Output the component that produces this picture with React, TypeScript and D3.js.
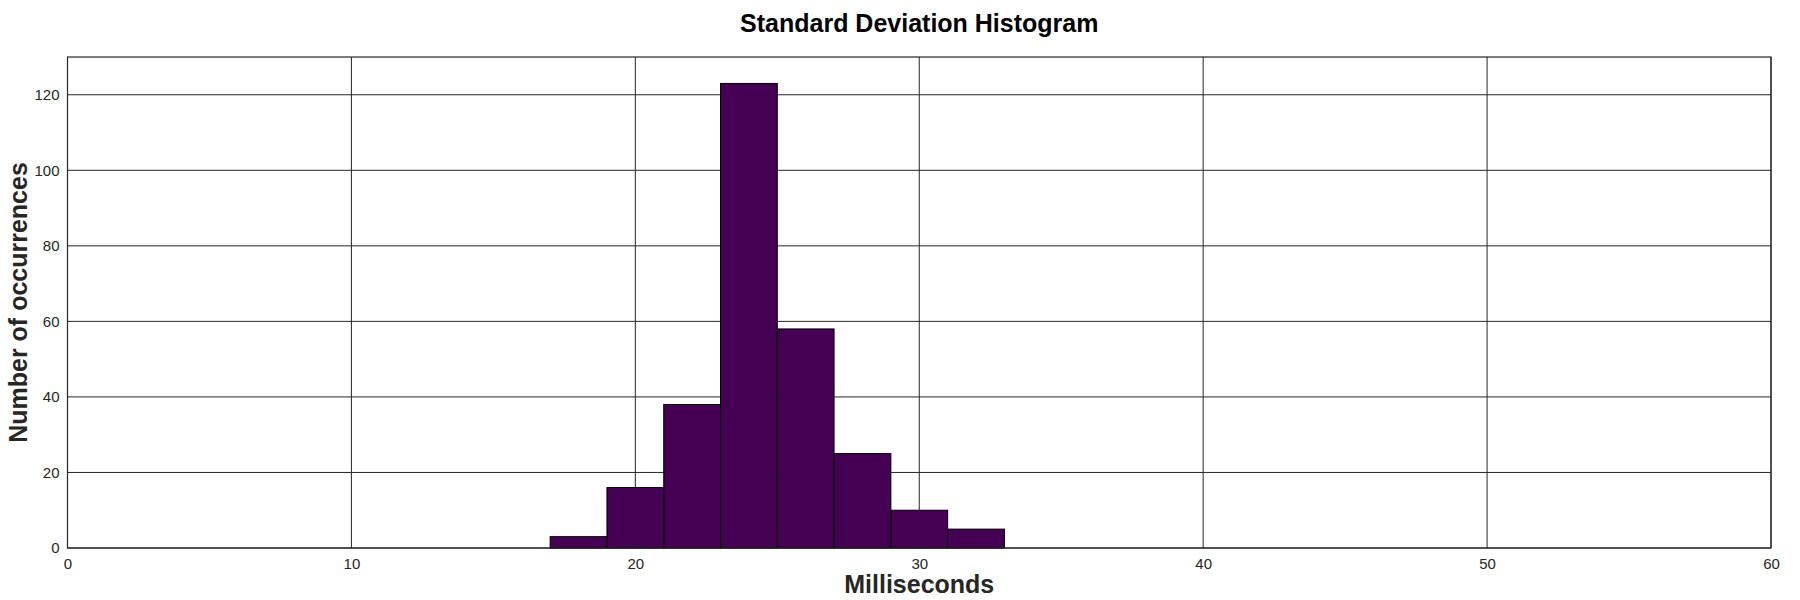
import { useEffect, useRef } from "react";
import * as d3 from "d3";

// histogram bins (ms) and counts
const binEdges = [17, 19, 21, 23, 25, 27, 29, 31, 33];
const counts = [3, 16, 38, 123, 58, 25, 10, 5];
const xTicks = [0, 10, 20, 30, 40, 50, 60];
const yTicks = [0, 20, 40, 60, 80, 100, 120];

const title = "Standard Deviation Histogram";
const xLabel = "Milliseconds";
const yLabel = "Number of occurrences";

const width = 1800;
const height = 600;

export default function App() {
  const svgRef = useRef<SVGSVGElement>(null);

  useEffect(() => {
    if (!svgRef.current) return;
    const svg = d3.select(svgRef.current);
    svg.selectAll("*").remove();

    const margin = { top: 57, right: 29, bottom: 52, left: 67.5 };
    const innerWidth = width - margin.left - margin.right;
    const innerHeight = height - margin.top - margin.bottom;
    const font = "'Liberation Sans', Arial, Helvetica, sans-serif";
    const gridColor = "#262626";

    const x = d3.scaleLinear().domain([0, 60]).range([0, innerWidth]);
    const y = d3.scaleLinear().domain([0, 130]).range([innerHeight, 0]);

    const g = svg
      .append("g")
      .attr("transform", `translate(${margin.left},${margin.top})`);

    // grid
    g.append("g")
      .selectAll("line")
      .data(xTicks)
      .join("line")
      .attr("x1", (d) => x(d))
      .attr("x2", (d) => x(d))
      .attr("y1", 0)
      .attr("y2", innerHeight)
      .attr("stroke", gridColor)
      .attr("stroke-width", 1);

    g.append("g")
      .selectAll("line")
      .data(yTicks)
      .join("line")
      .attr("x1", 0)
      .attr("x2", innerWidth)
      .attr("y1", (d) => y(d))
      .attr("y2", (d) => y(d))
      .attr("stroke", gridColor)
      .attr("stroke-width", 1);

    // bars
    const bins = counts.map((c, i) => ({ x0: binEdges[i], x1: binEdges[i + 1], count: c }));
    g.selectAll("rect.bar")
      .data(bins)
      .join("rect")
      .attr("class", "bar")
      .attr("x", (d) => x(d.x0))
      .attr("y", (d) => y(d.count))
      .attr("width", (d) => x(d.x1) - x(d.x0))
      .attr("height", (d) => innerHeight - y(d.count))
      .attr("fill", "#440154")
      .attr("stroke", "#000")
      .attr("stroke-width", 1);

    // axes box
    g.append("rect")
      .attr("x", 0)
      .attr("y", 0)
      .attr("width", innerWidth)
      .attr("height", innerHeight)
      .attr("fill", "none")
      .attr("stroke", gridColor)
      .attr("stroke-width", 1.2);

    // x axis labels
    const xAxis = g
      .append("g")
      .attr("transform", `translate(0,${innerHeight})`)
      .call(d3.axisBottom(x).tickValues(xTicks).tickSize(0).tickPadding(10).tickFormat(d3.format("d")));
    xAxis.select(".domain").remove();
    xAxis
      .selectAll("text")
      .style("font-family", font)
      .style("font-size", "15px")
      .style("fill", gridColor);

    // y axis labels
    const yAxis = g
      .append("g")
      .call(d3.axisLeft(y).tickValues(yTicks).tickSize(0).tickPadding(8).tickFormat(d3.format("d")));
    yAxis.select(".domain").remove();
    yAxis
      .selectAll("text")
      .style("font-family", font)
      .style("font-size", "15px")
      .style("fill", gridColor);

    // title
    svg
      .append("text")
      .attr("x", margin.left + innerWidth / 2)
      .attr("y", 32)
      .attr("text-anchor", "middle")
      .style("font-family", font)
      .style("font-size", "25px")
      .style("font-weight", "bold")
      .style("fill", "#000")
      .text(title);

    // x label
    svg
      .append("text")
      .attr("x", margin.left + innerWidth / 2)
      .attr("y", 593)
      .attr("text-anchor", "middle")
      .style("font-family", font)
      .style("font-size", "25px")
      .style("font-weight", "bold")
      .style("fill", gridColor)
      .text(xLabel);

    // y label
    svg
      .append("text")
      .attr("transform", `translate(27,${margin.top + innerHeight / 2}) rotate(-90)`)
      .attr("text-anchor", "middle")
      .style("font-family", font)
      .style("font-size", "25px")
      .style("font-weight", "bold")
      .style("fill", gridColor)
      .text(yLabel);
  }, []);

  return (
    <svg
      ref={svgRef}
      width={width}
      height={height}
      style={{ position: "absolute", left: 0, top: 0, background: "#fff" }}
    />
  );
}
